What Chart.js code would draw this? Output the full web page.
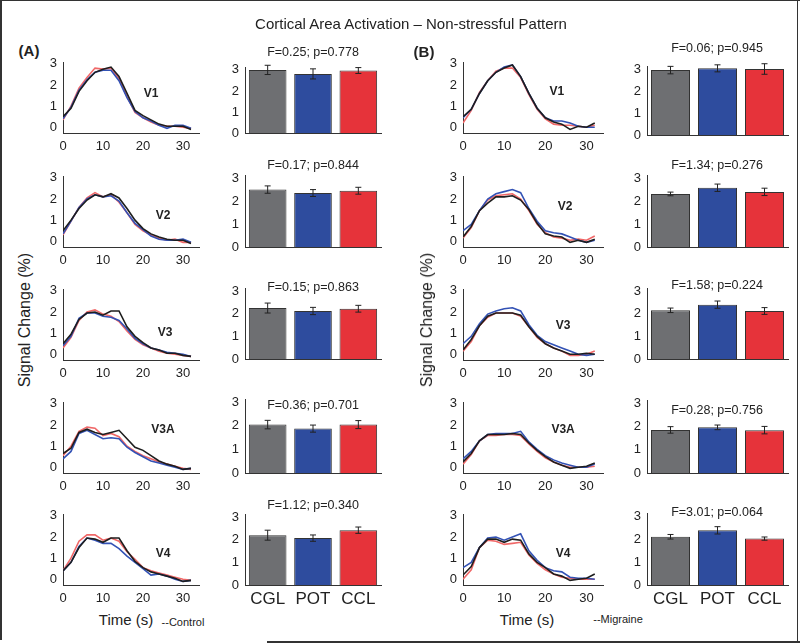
<!DOCTYPE html>
<html>
<head>
<meta charset="utf-8">
<script src="https://cdn.jsdelivr.net/npm/chart.js@4/dist/chart.umd.min.js"></script>
<style>
  body { margin: 0; background: #fff; font-family: "Liberation Sans", Arial, sans-serif; }
  #fig { position: relative; width: 800px; height: 643px; overflow: hidden; background: #fff; }
  #fig canvas { position: absolute; }
  .t { position: absolute; white-space: nowrap; color: #222; transform: translate(-50%, -50%); line-height: 1; }
  .ln { position: absolute; background: #333; }
</style>
</head>
<body>
<div id="fig"></div>
<script>
// ── Datos ────────────────────────────────────────────────────────────────
const TIME = [0, 2, 4, 6, 8, 10, 12, 14, 16, 18, 20, 22, 24, 26, 28, 30, 32];
const X_TICKS = [0, 10, 20, 30];
const Y_TICKS = [0, 1, 2, 3];
const AREAS = ["V1", "V2", "V3", "V3A", "V4"];
const GROUPS = ["CGL", "POT", "CCL"];

// (A) Control - time courses
const ctlV1Cgl  = [0.5, 0.9, 1.7, 2.2, 2.6, 2.75, 2.85, 2.4, 1.6, 0.8, 0.55, 0.35, 0.15, 0.05, 0.05, 0.05, -0.1];
const ctlV1Pot  = [0.4, 0.95, 1.75, 2.25, 2.6, 2.7, 2.7, 2.2, 1.4, 0.75, 0.45, 0.3, 0.1, -0.05, 0.1, 0.1, -0.05];
const ctlV1Ccl  = [0.35, 1.0, 1.85, 2.35, 2.8, 2.75, 2.8, 2.3, 1.45, 0.7, 0.45, 0.25, 0.1, 0.05, 0.05, 0.0, -0.05];
const ctlV2Cgl  = [0.5, 1.0, 1.55, 1.95, 2.2, 2.1, 2.25, 2.05, 1.55, 1.0, 0.6, 0.35, 0.2, 0.1, 0.05, 0.05, -0.1];
const ctlV2Pot  = [0.35, 0.95, 1.6, 2.0, 2.2, 2.1, 2.15, 1.9, 1.35, 0.85, 0.55, 0.25, 0.1, 0.05, 0.05, 0.1, -0.05];
const ctlV2Ccl  = [0.3, 0.95, 1.6, 2.05, 2.3, 2.1, 2.2, 1.85, 1.35, 0.8, 0.5, 0.3, 0.15, 0.05, 0.1, -0.05, -0.05];
const ctlV3Cgl  = [0.5, 0.95, 1.65, 1.95, 2.0, 1.85, 2.05, 2.05, 1.3, 0.85, 0.55, 0.3, 0.2, 0.05, 0.05, -0.05, -0.1];
const ctlV3Pot  = [0.4, 0.85, 1.7, 1.95, 1.95, 1.8, 1.75, 1.6, 1.2, 0.75, 0.5, 0.3, 0.2, 0.1, 0.05, 0.0, -0.1];
const ctlV3Ccl  = [0.3, 0.8, 1.6, 2.0, 2.1, 1.9, 1.8, 1.55, 1.1, 0.7, 0.45, 0.3, 0.15, 0.05, 0.0, -0.05, -0.1];
const ctlV3ACgl = [0.65, 0.9, 1.65, 1.8, 1.65, 1.55, 1.65, 1.75, 1.35, 0.95, 0.8, 0.55, 0.3, 0.15, 0.05, -0.1, -0.05];
const ctlV3APot = [0.4, 0.75, 1.6, 1.75, 1.55, 1.35, 1.4, 1.35, 0.95, 0.7, 0.5, 0.3, 0.2, 0.1, 0.0, -0.1, -0.05];
const ctlV3ACcl = [0.55, 1.0, 1.7, 1.9, 1.85, 1.5, 1.6, 1.45, 1.0, 0.75, 0.55, 0.4, 0.25, 0.15, 0.05, -0.05, -0.1];
const ctlV4Cgl  = [0.4, 0.8, 1.5, 1.95, 1.9, 1.75, 1.95, 1.95, 1.35, 0.85, 0.55, 0.35, 0.25, 0.15, 0.05, -0.1, -0.05];
const ctlV4Pot  = [0.4, 0.8, 1.55, 1.95, 1.85, 1.7, 1.7, 1.45, 1.1, 0.8, 0.5, 0.2, 0.25, 0.15, 0.0, -0.1, -0.05];
const ctlV4Ccl  = [0.4, 1.0, 1.8, 2.1, 2.1, 1.85, 1.95, 1.8, 1.3, 0.95, 0.55, 0.4, 0.3, 0.2, 0.1, 0.0, -0.05];

// (B) Migraine - time courses
const migV1Cgl  = [0.5, 0.85, 1.6, 2.2, 2.6, 2.8, 2.95, 2.4, 1.6, 0.9, 0.45, 0.25, 0.15, -0.1, 0.05, 0.0, 0.2];
const migV1Pot  = [0.45, 0.85, 1.6, 2.2, 2.6, 2.85, 2.95, 2.4, 1.6, 0.9, 0.45, 0.3, 0.3, 0.2, 0.05, 0.0, 0.0];
const migV1Ccl  = [0.2, 0.8, 1.65, 2.2, 2.65, 2.8, 2.8, 2.35, 1.55, 0.85, 0.4, 0.15, 0.1, 0.1, 0.05, 0.0, 0.1];
const migV2Cgl  = [0.2, 0.7, 1.45, 1.8, 2.1, 2.1, 2.15, 1.95, 1.5, 0.85, 0.35, 0.25, 0.2, -0.05, 0.05, -0.05, 0.1];
const migV2Pot  = [0.5, 0.8, 1.45, 2.0, 2.25, 2.35, 2.45, 2.3, 1.55, 0.95, 0.5, 0.4, 0.35, 0.2, 0.05, -0.05, 0.05];
const migV2Ccl  = [0.15, 0.65, 1.45, 1.95, 2.15, 2.2, 2.25, 2.0, 1.45, 0.8, 0.4, 0.2, 0.15, 0.05, 0.1, 0.05, 0.25];
const migV3Cgl  = [0.2, 0.7, 1.35, 1.8, 1.95, 1.95, 1.95, 1.85, 1.3, 0.85, 0.5, 0.3, 0.15, 0.0, 0.0, 0.05, 0.0];
const migV3Pot  = [0.5, 0.85, 1.45, 1.9, 2.05, 2.15, 2.2, 2.05, 1.4, 0.9, 0.6, 0.45, 0.3, 0.15, 0.0, -0.05, 0.0];
const migV3Ccl  = [0.15, 0.6, 1.35, 1.75, 1.95, 1.95, 1.95, 1.8, 1.3, 0.8, 0.5, 0.3, 0.15, -0.05, -0.05, 0.0, 0.15];
const migV3ACgl = [0.25, 0.65, 1.25, 1.55, 1.55, 1.55, 1.6, 1.55, 1.15, 0.8, 0.5, 0.25, 0.1, -0.05, 0.0, 0.05, 0.2];
const migV3APot = [0.4, 0.75, 1.25, 1.55, 1.6, 1.6, 1.6, 1.7, 1.2, 0.85, 0.55, 0.35, 0.2, 0.1, 0.0, 0.0, 0.15];
const migV3ACcl = [0.15, 0.6, 1.25, 1.5, 1.5, 1.55, 1.55, 1.5, 1.1, 0.75, 0.45, 0.25, 0.1, 0.0, 0.0, 0.0, 0.05];
const migV4Cgl  = [0.2, 0.6, 1.5, 1.9, 1.9, 1.75, 1.9, 1.85, 1.2, 0.8, 0.55, 0.25, 0.15, -0.05, 0.0, 0.05, 0.25];
const migV4Pot  = [0.55, 0.8, 1.5, 1.95, 2.0, 1.85, 2.0, 2.15, 1.35, 0.9, 0.55, 0.4, 0.35, 0.1, 0.05, 0.05, 0.0];
const migV4Ccl  = [0.0, 0.45, 1.5, 1.85, 1.8, 1.65, 1.7, 1.75, 1.15, 0.75, 0.45, 0.25, 0.1, 0.05, 0.0, 0.0, 0.0];

// Bar means / errors (por area: V1, V2, V3, V3A, V4)
const ctlMeanCgl = [3.00, 2.50, 2.25, 2.05, 2.20];
const ctlMeanPot = [2.81, 2.35, 2.12, 1.88, 2.07];
const ctlMeanCcl = [2.97, 2.45, 2.22, 2.05, 2.42];
const ctlErrCgl  = [0.22, 0.16, 0.22, 0.18, 0.22];
const ctlErrPot  = [0.24, 0.15, 0.16, 0.15, 0.14];
const ctlErrCcl  = [0.14, 0.15, 0.15, 0.17, 0.14];
const ctlStats = ["F=0.25; p=0.778", "F=0.17; p=0.844", "F=0.15; p=0.863", "F=0.36; p=0.701", "F=1.12; p=0.340"];

const migMeanCgl = [2.95, 2.31, 2.15, 1.85, 2.10];
const migMeanPot = [3.03, 2.58, 2.40, 1.96, 2.38];
const migMeanCcl = [3.00, 2.40, 2.12, 1.84, 2.02];
const migErrCgl  = [0.17, 0.08, 0.10, 0.14, 0.10];
const migErrPot  = [0.16, 0.16, 0.16, 0.10, 0.16];
const migErrCcl  = [0.24, 0.16, 0.15, 0.16, 0.07];
const migStats = ["F=0.06; p=0.945", "F=1.34; p=0.276", "F=1.58; p=0.224", "F=0.28; p=0.756", "F=3.01; p=0.064"];

const ctlCurves = [
  [ctlV1Cgl, ctlV1Pot, ctlV1Ccl], [ctlV2Cgl, ctlV2Pot, ctlV2Ccl], [ctlV3Cgl, ctlV3Pot, ctlV3Ccl],
  [ctlV3ACgl, ctlV3APot, ctlV3ACcl], [ctlV4Cgl, ctlV4Pot, ctlV4Ccl],
];
const migCurves = [
  [migV1Cgl, migV1Pot, migV1Ccl], [migV2Cgl, migV2Pot, migV2Ccl], [migV3Cgl, migV3Pot, migV3Ccl],
  [migV3ACgl, migV3APot, migV3ACcl], [migV4Cgl, migV4Pot, migV4Ccl],
];

// ── Estilo / layout ──────────────────────────────────────────────────────
const LINE_COLORS = ["#1e1e1e", "#3352b5", "#f06868"];
const BAR_COLORS  = ["#6e6f72", "#2e4c9e", "#e6333a"];
const INK = "#222";
const FONT = "'Liberation Sans', Arial, sans-serif";
Chart.defaults.font.family = FONT;
Chart.defaults.color = INK;

const YW = 22, PT = 8, PR = 4, XH_LINE = 22, XH_BAR = 26;
const ROW_TOP = [57, 171, 284, 397, 509];
const LINE_H = 76;
const BAR_TOP_A = [62, 170, 283, 394, 509], BAR_BOT_A = [133, 247, 359, 473, 585];
const BAR_TOP_B = [61, 170, 283, 395, 508], BAR_BOT_B = [135, 247, 359, 473, 585];
const STAT_Y_A = [52, 165, 287, 405, 505];
const STAT_Y_B = [48, 165, 285, 410, 512];
const LABEL_POS_A = [[22, 1.6], [25, 1.2], [25.5, 1.0], [25, 1.8], [25, 1.2]];
const LABEL_POS_B = [[22.8, 1.7], [24.8, 1.65], [24.3, 1.35], [24.3, 1.8], [24.3, 1.2]];

const fig = document.getElementById("fig");

const place = (left, top, w, h) => {
  const c = document.createElement("canvas");
  c.width = w; c.height = h;
  c.style.left = left + "px"; c.style.top = top + "px";
  c.style.width = w + "px"; c.style.height = h + "px";
  fig.appendChild(c);
  return c;
};

const text = (str, x, y, css) => {
  const d = document.createElement("div");
  d.className = "t";
  d.textContent = str;
  d.style.left = x + "px"; d.style.top = y + "px";
  Object.assign(d.style, css || {});
  fig.appendChild(d);
  return d;
};

const fixedTicks = (vals) => (s) => { s.ticks = vals.map((v) => ({ value: v })); };
const axisBorder = { display: true, color: "#333", width: 1 };
const noGrid = { display: false, drawTicks: false };

// ── Plugins ──────────────────────────────────────────────────────────────
const areaLabel = {
  id: "areaLabel",
  afterDraw(chart, args, opts) {
    const { ctx, scales: { x, y } } = chart;
    ctx.save();
    ctx.font = "bold 12px " + FONT;
    ctx.fillStyle = INK;
    ctx.textAlign = "center";
    ctx.textBaseline = "middle";
    ctx.fillText(opts.text, x.getPixelForValue(opts.x), y.getPixelForValue(opts.y));
    ctx.restore();
  },
};

const errorBars = {
  id: "errorBars",
  afterDatasetsDraw(chart) {
    const { ctx, scales: { y } } = chart;
    chart.data.datasets.forEach((ds, di) => {
      chart.getDatasetMeta(di).data.forEach((bar, i) => {
        const top = y.getPixelForValue(ds.data[i] + ds.errors[i]);
        const bot = y.getPixelForValue(ds.data[i] - ds.errors[i]);
        ctx.save();
        ctx.strokeStyle = INK;
        ctx.lineWidth = 1;
        ctx.beginPath();
        ctx.moveTo(bar.x, top); ctx.lineTo(bar.x, bot);
        ctx.moveTo(bar.x - 3, top); ctx.lineTo(bar.x + 3, top);
        ctx.moveTo(bar.x - 3, bot); ctx.lineTo(bar.x + 3, bot);
        ctx.stroke();
        ctx.restore();
      });
    });
  },
};

// ── Graficas ─────────────────────────────────────────────────────────────
const drawLine = (left, width, top, curves, label, pos) => {
  const c = place(left - YW, top - PT, width + YW + PR, LINE_H + PT + XH_LINE);
  new Chart(c, {
    type: "line",
    data: {
      datasets: curves.map((ys, k) => ({
        data: TIME.map((t, i) => ({ x: t, y: ys[i] })),
        borderColor: LINE_COLORS[k],
        borderWidth: 1.6,
        pointRadius: 0,
        tension: 0,
        fill: false,
      })),
    },
    options: {
      responsive: false,
      animation: false,
      layout: { autoPadding: false, padding: { top: PT, right: PR, left: 0, bottom: 0 } },
      plugins: {
        legend: { display: false },
        tooltip: { enabled: false },
        areaLabel: { text: label, x: pos[0], y: pos[1] },
      },
      scales: {
        x: {
          type: "linear", min: 0, max: 34,
          afterBuildTicks: fixedTicks(X_TICKS),
          afterFit: (s) => { s.height = XH_LINE; },
          grid: noGrid, border: axisBorder,
          ticks: { padding: 6, autoSkip: false, maxRotation: 0, font: { size: 13 } },
        },
        y: {
          min: -0.27, max: 3.05,
          afterBuildTicks: fixedTicks(Y_TICKS),
          afterFit: (s) => { s.width = YW; },
          grid: noGrid, border: axisBorder,
          ticks: { padding: 6, autoSkip: false, font: { size: 13 } },
        },
      },
    },
    plugins: [areaLabel],
  });
};

const drawBar = (left, width, top, bottom, means, errs, showLabels) => {
  const h = bottom - top;
  const c = place(left - YW, top - PT, width + YW + PR, h + PT + XH_BAR);
  new Chart(c, {
    type: "bar",
    data: {
      labels: GROUPS,
      datasets: [{
        data: means,
        errors: errs,
        backgroundColor: BAR_COLORS,
        borderColor: "#333",
        borderWidth: 1,
        barPercentage: 0.83,
        categoryPercentage: 1,
      }],
    },
    options: {
      responsive: false,
      animation: false,
      layout: { autoPadding: false, padding: { top: PT, right: PR, left: 0, bottom: 0 } },
      plugins: { legend: { display: false }, tooltip: { enabled: false } },
      scales: {
        x: {
          afterFit: (s) => { s.height = XH_BAR; },
          grid: noGrid, border: axisBorder,
          ticks: { display: showLabels, padding: 4, font: { size: 17 } },
        },
        y: {
          min: 0, max: 3.1,
          afterBuildTicks: fixedTicks(Y_TICKS),
          afterFit: (s) => { s.width = YW; },
          grid: noGrid, border: axisBorder,
          ticks: { padding: 6, autoSkip: false, font: { size: 13 } },
        },
      },
    },
    plugins: [errorBars],
  });
};

AREAS.forEach((area, r) => {
  const last = r === AREAS.length - 1;
  drawLine(63, 136, ROW_TOP[r], ctlCurves[r], area, LABEL_POS_A[r]);
  drawLine(463, 140, ROW_TOP[r], migCurves[r], area, LABEL_POS_B[r]);
  drawBar(245, 136, BAR_TOP_A[r], BAR_BOT_A[r],
    [ctlMeanCgl[r], ctlMeanPot[r], ctlMeanCcl[r]], [ctlErrCgl[r], ctlErrPot[r], ctlErrCcl[r]], last);
  drawBar(647, 141, BAR_TOP_B[r], BAR_BOT_B[r],
    [migMeanCgl[r], migMeanPot[r], migMeanCcl[r]], [migErrCgl[r], migErrPot[r], migErrCcl[r]], last);
  text(ctlStats[r], 245 + 68, STAT_Y_A[r], { fontSize: "12.5px" });
  text(migStats[r], 647 + 70, STAT_Y_B[r], { fontSize: "12.5px" });
});

// ── Textos ───────────────────────────────────────────────────────────────
text("Cortical Area Activation \u2013 Non-stressful Pattern", 411, 23, { fontSize: "15px" });
text("(A)", 29, 50, { fontSize: "15px", fontWeight: "bold" });
text("(B)", 424, 51, { fontSize: "15px", fontWeight: "bold" });
text("Signal Change (%)", 25, 320, { fontSize: "16px", transform: "translate(-50%, -50%) rotate(-90deg)" });
text("Signal Change (%)", 427, 320, { fontSize: "16px", transform: "translate(-50%, -50%) rotate(-90deg)" });
text("Time (s)", 126, 619, { fontSize: "15px" });
text("Time (s)", 527, 619, { fontSize: "15px" });
text("--Control", 183, 622, { fontSize: "11px" });
text("--Migraine", 618, 619, { fontSize: "11px" });

// marco
const frame = (l, t, w, h) => {
  const d = document.createElement("div");
  d.className = "ln";
  Object.assign(d.style, { left: l + "px", top: t + "px", width: w + "px", height: h + "px" });
  fig.appendChild(d);
};
frame(0, 0, 800, 1);
frame(0, 0, 2, 640);
frame(797, 0, 1, 643);
frame(267, 641, 533, 2);
</script>
</body>
</html>
